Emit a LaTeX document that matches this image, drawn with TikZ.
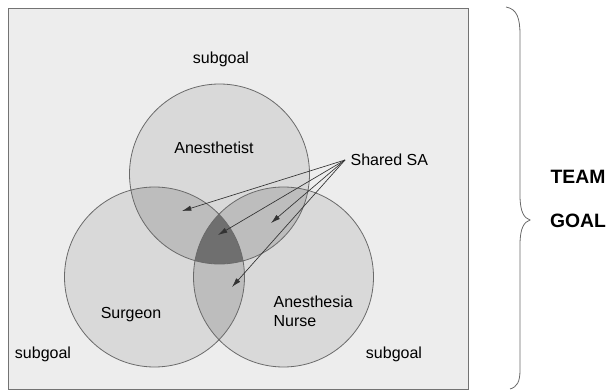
\documentclass[tikz,border=0pt]{standalone}
\usepackage{fontspec}
\setmainfont{Liberation Sans}
\usetikzlibrary{arrows.meta}
\definecolor{boxgray}{HTML}{EDEDED}
\definecolor{onegray}{HTML}{D9D9D9}
\definecolor{twogray}{HTML}{BDBDBD}
\definecolor{threegray}{HTML}{6F6F6F}
\definecolor{linegray}{HTML}{6A6A6A}
\begin{document}
\begin{tikzpicture}[x=0.75pt,y=0.75pt,
    lbl/.style={font=\fontsize{12}{14}\selectfont,inner sep=1pt},
    big/.style={font=\fontsize{14.5}{16}\selectfont\bfseries,inner sep=1pt},
    ring/.style={draw=linegray,line width=0.6pt},
    sa/.style={draw=black!80,line width=0.5pt,-{Latex[length=7pt,width=4pt]}}]
    \useasboundingbox (0,0) rectangle (608,390);
    \draw[draw=black!55,fill=boxgray,line width=0.6pt] (8,1) rectangle (468,382);
    % circle centres
    \coordinate (cA) at (219.5,216);
    \coordinate (cS) at (154.5,113);
    \coordinate (cN) at (283.5,113);
    \fill[onegray] (cA) circle (90) (cS) circle (90) (cN) circle (90);
    \begin{scope}
      \clip (cA) circle (90);
      \fill[twogray] (cS) circle (90) (cN) circle (90);
    \end{scope}
    \begin{scope}
      \clip (cS) circle (90);
      \fill[twogray] (cN) circle (90);
      \clip (cN) circle (90);
      \fill[threegray] (cA) circle (90);
    \end{scope}
    \draw[ring] (cA) circle (90) (cS) circle (90) (cN) circle (90);
    % labels
    \node[lbl] (subtop) at (221,331) {subgoal};
    \node[lbl] (subleft) at (43,36) {subgoal};
    \node[lbl] (subright) at (394,36) {subgoal};
    \node[lbl] (anest) at (214,242) {Anesthetist};
    \node[lbl] (surg) at (131,75) {Surgeon};
    \node[lbl,align=left,anchor=west] (nurse) at (272,79) {Anesthesia\\Nurse};
    \node[lbl,anchor=west] (shared) at (349,230) {Shared SA};
    \node[big] (team) at (578,213) {TEAM};
    \node[big] (goal) at (578,169) {GOAL};
    % shared SA arrows
    \coordinate (src) at ([xshift=-3pt]shared.west);
    \coordinate (tAS) at (182,179);
    \coordinate (tASN) at (218,155);
    \coordinate (tAN) at (271,167);
    \coordinate (tSN) at (232,103);
    \foreach \t in {tAS,tASN,tAN,tSN}
      \draw[sa] (src) -- (\t);
    % brace
    \draw[linegray,line width=0.6pt] (506,383) .. controls (517,381) and (520,372) .. (520,355)
      -- (520,195) .. controls (520,178) and (524,172) .. (530,170)
      .. controls (524,168) and (520,162) .. (520,145)
      -- (520,20) .. controls (520,8) and (517,3) .. (510,1);
  \end{tikzpicture}
\end{document}
